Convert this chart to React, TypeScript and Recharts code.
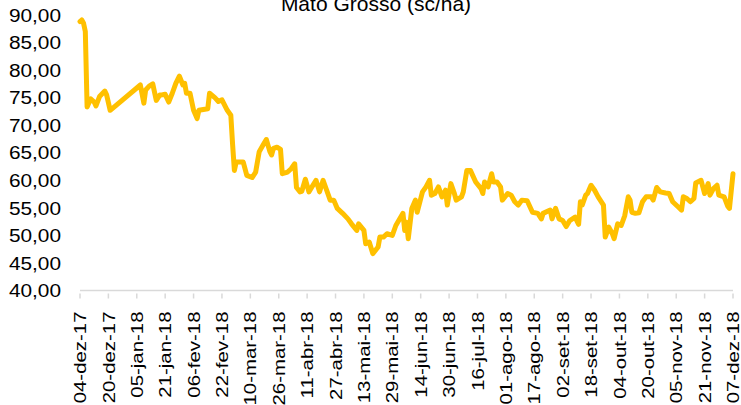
import React from 'react';
import { LineChart, Line, XAxis, YAxis } from 'recharts';

// days counted from 04-dez-17
const days = [
  0, 1, 2, 3, 4, 6, 8, 9, 11, 14, 15, 17, 34, 36, 37, 39, 41, 43, 45, 46,
  48, 50, 52, 54, 56, 58, 59, 60, 62, 64, 66, 67, 72, 73, 76, 78, 80, 83, 85, 86,
  87, 88, 92, 94, 97, 99, 101, 103, 105, 107, 108, 109, 111, 113, 114, 117, 119, 121, 122, 124,
  125, 127, 129, 133, 135, 137, 138, 141, 143, 145, 148, 151, 153, 156, 157, 160, 161, 163, 165, 168,
  169, 171, 173, 176, 178, 182, 183, 184, 185, 187, 189, 190, 193, 195, 197, 198, 200, 202, 204, 206,
  207, 209, 211, 212, 215, 216, 218, 220, 223, 226, 227, 228, 230, 232, 233, 235, 237, 238, 241, 243,
  245, 247, 249, 252, 255, 258, 260, 261, 265, 266, 268, 270, 272, 274, 276, 279, 281, 282, 283, 285,
  286, 288, 290, 292, 295, 296, 298, 300, 301, 303, 305, 307, 309, 310, 311, 313, 315, 317, 319, 322,
  323, 325, 327, 330, 332, 334, 337, 339, 340, 342, 344, 346, 347, 350, 352, 354, 355, 357, 359, 360,
  363, 365, 366, 368,
];

const prices = [
  88.8, 89.1, 88.5, 87.0, 73.3, 74.8, 74.2, 73.5, 75.2, 76.2, 75.5, 72.7, 77.3, 74.0, 76.4, 77.1, 77.5, 74.5, 75.5, 75.5,
  75.6, 74.2, 75.8, 77.6, 78.9, 77.3, 77.6, 75.8, 75.8, 72.7, 71.2, 72.7, 73.0, 75.8, 75.0, 74.3, 74.6, 72.7, 71.8, 66.5,
  61.8, 63.3, 63.3, 60.9, 60.5, 61.5, 65.2, 66.3, 67.4, 65.2, 64.6, 65.8, 66.0, 65.6, 61.2, 61.5, 62.1, 63.0, 58.7, 57.9,
  58.0, 60.2, 57.9, 60.0, 57.9, 60.0, 59.1, 56.4, 56.4, 54.9, 54.0, 53.0, 52.1, 50.9, 52.1, 50.9, 48.5, 48.8, 46.7, 47.9,
  49.7, 49.7, 50.3, 50.0, 51.8, 54.0, 50.9, 52.4, 49.4, 54.9, 56.4, 54.2, 57.9, 58.8, 60.0, 57.3, 57.6, 58.8, 57.0, 58.2,
  55.5, 59.4, 57.6, 56.4, 57.0, 57.9, 61.8, 61.8, 59.7, 58.5, 57.6, 59.7, 58.8, 61.2, 59.7, 59.7, 58.8, 56.4, 57.6, 57.3,
  56.1, 55.5, 56.4, 56.3, 54.2, 54.0, 53.0, 54.0, 54.6, 53.0, 54.9, 53.0, 52.7, 51.6, 52.7, 53.3, 52.0, 56.1, 55.5, 57.3,
  57.6, 59.1, 58.2, 57.0, 55.5, 49.7, 51.5, 50.3, 49.4, 52.1, 51.8, 53.6, 57.0, 56.4, 54.2, 54.0, 54.1, 56.1, 57.0, 57.0,
  56.4, 58.7, 57.9, 57.7, 57.6, 56.1, 55.2, 54.6, 57.0, 56.7, 56.1, 56.7, 59.5, 60.0, 57.6, 59.4, 57.3, 58.5, 59.1, 57.3,
  57.0, 55.3, 54.9, 61.2,
];

const tickLabels = [
  '04-dez-17', '20-dez-17', '05-jan-18', '21-jan-18', '06-fev-18', '22-fev-18', '10-mar-18', '26-mar-18',
  '11-abr-18', '27-abr-18', '13-mai-18', '29-mai-18', '14-jun-18', '30-jun-18', '16-jul-18', '01-ago-18',
  '17-ago-18', '02-set-18', '18-set-18', '04-out-18', '20-out-18', '05-nov-18', '21-nov-18', '07-dez-18',
];
const tickDays = tickLabels.map((_, i) => i * 16);
const yTicks = [40, 45, 50, 55, 60, 65, 70, 75, 80, 85, 90];

const data = days.map((d, i) => ({ day: d, value: prices[i] }));

const FONT = '"Liberation Sans", Arial, sans-serif';

const XTick = (props: any) => {
  const { x, y, payload } = props;
  const label = tickLabels[tickDays.indexOf(payload.value)] ?? '';
  return (
    <g>
      <line x1={x} x2={x} y1={y - 5} y2={y} stroke="#d9d9d9" strokeWidth={1.5} />
      <g transform={`translate(${x},${y + 13}) rotate(-90) scale(1.2,1)`}>
        <text textAnchor="end" dy="0.36em" fontSize={17} fill="#000" fontFamily={FONT}>
          {label}
        </text>
      </g>
    </g>
  );
};

const YTick = (props: any) => {
  const { y, payload } = props;
  return (
    <g transform={`translate(61,${y}) scale(1.12,1)`}>
      <text textAnchor="end" dy="0.36em" fontSize={18.6} fill="#000" fontFamily={FONT}>
        {payload.value.toFixed(2).replace('.', ',')}
      </text>
    </g>
  );
};

export default function App() {
  return (
    <div style={{ position: 'absolute', left: 0, top: 0, width: 741, height: 405, background: '#fff', overflow: 'hidden' }}>
      <LineChart width={741} height={405} data={data} margin={{ top: 15, right: 8, bottom: 0, left: 0 }}>
        <XAxis
          type="number"
          dataKey="day"
          domain={[0, 368]}
          ticks={tickDays}
          interval={0}
          tickLine={false}
          axisLine={{ stroke: '#d9d9d9', strokeWidth: 1.5 }}
          tick={<XTick />}
          height={114.5}
        />
        <YAxis
          domain={[40, 90]}
          ticks={yTicks}
          interval={0}
          axisLine={false}
          tickLine={false}
          tick={<YTick />}
          width={80}
        />
        <Line
          type="linear"
          dataKey="value"
          stroke="#FFC000"
          strokeWidth={5}
          strokeLinejoin="round"
          strokeLinecap="round"
          dot={false}
          isAnimationActive={false}
        />
      </LineChart>
      <svg width={741} height={405} style={{ position: 'absolute', left: 0, top: 0, pointerEvents: 'none' }}>
        <text x={376} y={10.5} textAnchor="middle" fontSize={21} fill="#000" fontFamily={FONT}>
          Mato Grosso (sc/ha)
        </text>
      </svg>
    </div>
  );
}
